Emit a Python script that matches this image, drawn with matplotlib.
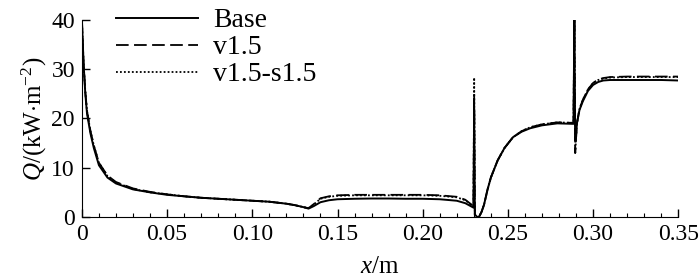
import matplotlib.pyplot as plt
from matplotlib.ticker import MultipleLocator

plt.rcParams['font.family'] = ['Liberation Serif', 'DejaVu Serif']
plt.rcParams['mathtext.fontset'] = 'custom'
plt.rcParams['mathtext.rm'] = 'Liberation Serif'
plt.rcParams['mathtext.it'] = 'Liberation Serif:italic'

fs = 17

# x positions (m)
x = [0, 0.001, 0.002, 0.003, 0.005, 0.007, 0.010, 0.015, 0.020, 0.030,
     0.040, 0.050, 0.060, 0.070, 0.080, 0.090, 0.100, 0.110, 0.120, 0.125,
     0.130, 0.133, 0.136, 0.140, 0.145, 0.150, 0.160, 0.170, 0.180, 0.190,
     0.200, 0.210, 0.220, 0.225, 0.2298, 0.2302, 0.2306, 0.2320, 0.2330, 0.2345,
     0.236, 0.238, 0.240, 0.244, 0.248, 0.253, 0.258, 0.263, 0.270, 0.279,
     0.2885, 0.2890, 0.2895, 0.2900, 0.2905, 0.292, 0.294, 0.297, 0.300, 0.303,
     0.306, 0.310, 0.320, 0.330, 0.340, 0.350]

q_base = [40, 31, 25, 21, 17, 14, 10.5, 8.0, 6.8, 5.6,
          5.0, 4.5, 4.2, 3.9, 3.7, 3.5, 3.3, 3.1, 2.7, 2.4,
          2.0, 1.7, 2.2, 3.0, 3.4, 3.6, 3.7, 3.75, 3.75, 3.7,
          3.7, 3.6, 3.3, 2.8, 1.9, 22.0, 0.5, 0.0, 0.0, 1.0,
          2.5, 5.5, 8.0, 11.5, 14.0, 16.2, 17.3, 18.0, 18.6, 19.0,
          18.9, 40.0, 15.5, 16.5, 19.0, 21.7, 23.5, 25.6, 26.8, 27.4,
          27.7, 27.8, 27.8, 27.8, 27.8, 27.7]

q_v15 = [40, 31, 25.5, 21.5, 17.5, 14.5, 11.0, 8.4, 7.1, 5.8,
         5.1, 4.6, 4.2, 3.9, 3.7, 3.5, 3.3, 3.1, 2.7, 2.4,
         2.0, 1.8, 2.6, 3.8, 4.2, 4.4, 4.5, 4.5, 4.5, 4.5,
         4.5, 4.4, 4.1, 3.5, 2.2, 25.0, 0.5, 0.0, 0.0, 1.0,
         2.5, 5.5, 8.0, 11.5, 14.0, 16.2, 17.4, 18.2, 18.8, 19.2,
         19.1, 40.0, 13.0, 16.0, 19.0, 21.9, 23.8, 25.9, 27.2, 27.9,
         28.2, 28.4, 28.5, 28.5, 28.5, 28.5]

q_v15_s15 = [40, 31, 25.5, 21.5, 17.5, 14.5, 11.0, 8.3, 7.0, 5.7,
             5.0, 4.6, 4.2, 3.9, 3.7, 3.5, 3.3, 3.1, 2.7, 2.4,
             2.0, 1.8, 2.5, 3.7, 4.1, 4.3, 4.4, 4.4, 4.4, 4.4,
             4.4, 4.3, 4.0, 3.4, 2.1, 28.3, 0.5, 0.0, 0.0, 1.0,
             2.5, 5.5, 8.0, 11.5, 14.0, 16.2, 17.4, 18.2, 18.8, 19.2,
             19.1, 40.0, 13.0, 16.0, 19.0, 21.9, 23.8, 25.9, 27.2, 27.8,
             28.1, 28.3, 28.4, 28.4, 28.4, 28.4]

fig = plt.figure(figsize=(7, 2.8), dpi=100)
ax = fig.add_axes([0.117, 0.225, 0.852, 0.704])

ax.plot(x, q_base, '-', color='k', linewidth=1.4, label='Base')
ax.plot(x, q_v15, '--', color='k', linewidth=1.3, dashes=(7, 3), label='v1.5')
ax.plot(x, q_v15_s15, ':', color='k', linewidth=1.3, dashes=(1, 1.2), label='v1.5-s1.5')

ax.set_xlim(0, 0.35)
ax.set_ylim(0, 40)
ax.set_xticks([0, 0.05, 0.10, 0.15, 0.20, 0.25, 0.30, 0.35])
ax.set_xticklabels(['0', '0.05', '0.10', '0.15', '0.20', '0.25', '0.30', '0.35'])
ax.set_yticks([0, 10, 20, 30, 40])
ax.xaxis.set_minor_locator(MultipleLocator(0.01))
ax.tick_params(direction='in', length=6, width=1, labelsize=fs, pad=5)
ax.tick_params(which='minor', direction='in', length=3, width=0.8)
ax.spines['top'].set_visible(False)
ax.spines['right'].set_visible(False)

ax.set_xlabel('$x$/m', size=fs + 1, labelpad=8)
ax.set_ylabel('$Q$/(kW$\\cdot$m$^{-2}$)', size=fs + 1, labelpad=2)

ax.legend(loc='upper left', bbox_to_anchor=(0.025, 1.16), frameon=False,
          prop={'size': 20}, handlelength=2.95, labelspacing=0.06, handletextpad=0.55,
          borderaxespad=0.3)

plt.savefig('out.png', dpi=100)
